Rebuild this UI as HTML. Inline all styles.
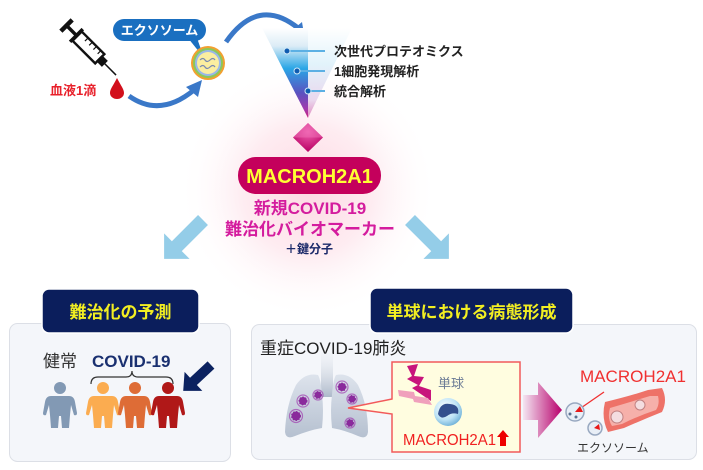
<!DOCTYPE html>
<html><head><meta charset="utf-8"><style>
html,body{margin:0;padding:0;background:#fff;}
svg{display:block;}
text{font-family:"Liberation Sans","Noto Sans CJK JP",sans-serif;}
</style></head><body>
<svg width="703" height="470" viewBox="0 0 703 470" xmlns="http://www.w3.org/2000/svg">
<defs>
<radialGradient id="glow" cx="308" cy="190" r="130" gradientUnits="userSpaceOnUse">
<stop offset="0" stop-color="#fcd9e3"/><stop offset="0.5" stop-color="#feecf1"/><stop offset="1" stop-color="#ffffff" stop-opacity="0"/>
</radialGradient>
<linearGradient id="funL" x1="0" y1="28" x2="0" y2="118" gradientUnits="userSpaceOnUse">
<stop offset="0" stop-color="#ffffff"/><stop offset="0.2" stop-color="#dcecf6"/><stop offset="0.45" stop-color="#2aa6e6"/><stop offset="0.72" stop-color="#5a52c0"/><stop offset="0.9" stop-color="#a23aae"/><stop offset="1" stop-color="#c8207c"/>
</linearGradient>
<linearGradient id="funR" x1="0" y1="28" x2="0" y2="118" gradientUnits="userSpaceOnUse">
<stop offset="0" stop-color="#ffffff"/><stop offset="0.4" stop-color="#e2f3fb"/><stop offset="0.8" stop-color="#ead8ee"/><stop offset="1" stop-color="#e08cc0"/>
</linearGradient>
<linearGradient id="pinkArr" x1="523" y1="0" x2="562" y2="0" gradientUnits="userSpaceOnUse">
<stop offset="0" stop-color="#f4e6f2"/><stop offset="1" stop-color="#b8006c"/>
</linearGradient>
<linearGradient id="lung" x1="0" y1="375" x2="0" y2="440" gradientUnits="userSpaceOnUse">
<stop offset="0" stop-color="#dde3ec"/><stop offset="1" stop-color="#b4bfcf"/>
</linearGradient>
<linearGradient id="trach" x1="0" y1="352" x2="0" y2="398" gradientUnits="userSpaceOnUse">
<stop offset="0" stop-color="#eef1f5" stop-opacity="0.3"/><stop offset="1" stop-color="#aab6c8"/>
</linearGradient>
<radialGradient id="mono" cx="0.4" cy="0.35" r="0.7">
<stop offset="0" stop-color="#ffffff"/><stop offset="0.6" stop-color="#bfe4f6"/><stop offset="1" stop-color="#6aaed6"/>
</radialGradient>
<radialGradient id="diam" cx="0.5" cy="0.3" r="0.7">
<stop offset="0" stop-color="#f060b0"/><stop offset="1" stop-color="#b80062"/>
</radialGradient>
</defs>

<!-- glow -->
<rect x="170" y="55" width="280" height="270" fill="url(#glow)"/>

<!-- syringe -->
<g transform="translate(92,51) rotate(45)" fill="#fff" stroke="#111" stroke-width="2.4">
<line x1="-36" y1="-8" x2="-36" y2="8" stroke-width="4.5"/>
<line x1="-36" y1="0" x2="-22" y2="0" stroke-width="3.5"/>
<line x1="-22" y1="-9" x2="-22" y2="9" stroke-width="3.5"/>
<rect x="-21" y="-6.5" width="32" height="13"/>
<line x1="-12" y1="-6" x2="-12" y2="-2" stroke-width="1.2"/>
<line x1="-6" y1="-6" x2="-6" y2="-2" stroke-width="1.2"/>
<line x1="0" y1="-6" x2="0" y2="-2" stroke-width="1.2"/>
<line x1="6" y1="-6" x2="6" y2="-2" stroke-width="1.2"/>
<rect x="11" y="-3" width="6" height="6" fill="#111"/>
<line x1="17" y1="0" x2="34" y2="0" stroke-width="1.5"/>
</g>
<!-- blood drop -->
<path d="M117,78 C113,86 110,89 110,93 A7,6 0 0 0 124,93 C124,89 121,86 117,78 Z" fill="#d2101c"/>
<text x="50" y="95" font-size="13" font-weight="bold" fill="#e8202a">血液1滴</text>

<!-- arc 1 -->
<path d="M129,96 Q160,118 194,90" fill="none" stroke="#3a78c8" stroke-width="5"/>
<polygon points="202,80 198,97 186,87" fill="#3a78c8"/>
<!-- exosome bubble -->
<path d="M188,38 L204,58 L197,38 Z" fill="#1a6fc0"/>
<rect x="113" y="19" width="93" height="22" rx="11" fill="#1a6fc0"/>
<text x="159.5" y="35" font-size="13" font-weight="bold" fill="#fff" text-anchor="middle">エクソソーム</text>
<!-- exosome circle -->
<circle cx="208" cy="63" r="17" fill="#f2a030"/>
<circle cx="208" cy="63" r="15" fill="#8cc85a"/>
<circle cx="208" cy="63" r="13" fill="#9ab8e8"/>
<circle cx="208" cy="63" r="11" fill="#fbeea0"/>
<path d="M200,60 q3,-3 5,0 t5,0 t5,0 M200,67 q3,-3 5,0 t5,0 t5,0" fill="none" stroke="#7a8ab0" stroke-width="1.2"/>

<!-- arc 2 -->
<path d="M226,42 Q258,-4 298,28" fill="none" stroke="#3a78c8" stroke-width="5"/>
<polygon points="305,40 290,32 302,22" fill="#3a78c8"/>

<!-- funnel -->
<polygon points="262,28 308,28 308,118" fill="url(#funL)"/>
<polygon points="308,28 352,28 308,118" fill="url(#funR)"/>
<g stroke="#5cb0e4" stroke-width="2">
<line x1="287" y1="51" x2="325" y2="51"/>
<line x1="297" y1="71" x2="325" y2="71"/>
<line x1="308" y1="91" x2="325" y2="91"/>
</g>
<g fill="#0f5cb0" stroke="#cfe8f8" stroke-width="1">
<circle cx="287" cy="51" r="3"/><circle cx="297" cy="71" r="3"/><circle cx="308" cy="91" r="3"/>
</g>
<g font-size="13" font-weight="bold" fill="#222">
<text x="334" y="56">次世代プロテオミクス</text>
<text x="334" y="76">1細胞発現解析</text>
<text x="334" y="96">統合解析</text>
</g>

<!-- diamond -->
<polygon points="308,123 323,137.5 308,152 293,137.5" fill="url(#diam)"/>
<polygon points="308,123 323,137.5 308,137.5 293,137.5" fill="#f070b8" opacity="0.5"/>

<!-- pill -->
<rect x="238" y="157" width="143" height="37" rx="18" fill="#c4005c"/>
<text x="309.5" y="183" font-size="20" font-weight="bold" fill="#ffff33" text-anchor="middle">MACROH2A1</text>
<text x="310" y="214" font-size="17" font-weight="bold" fill="#d41c9e" text-anchor="middle">新規COVID-19</text>
<text x="310" y="235" font-size="17" font-weight="bold" fill="#d41c9e" text-anchor="middle">難治化バイオマーカー</text>
<text x="309" y="253" font-size="12" font-weight="bold" fill="#1c2a6a" text-anchor="middle">＋鍵分子</text>

<!-- light blue arrows -->
<g fill="#94cde8">
<polygon transform="translate(203,220) rotate(135)" points="0,-7 37,-7 37,-18 55,0 37,18 37,7 0,7"/>
<polygon transform="translate(410,220) rotate(45)" points="0,-7 37,-7 37,-18 55,0 37,18 37,7 0,7"/>
</g>

<!-- panels -->
<rect x="9.5" y="323.5" width="221" height="138" rx="8" fill="#f4f6fa" stroke="#dcdfe6"/>
<rect x="251.5" y="324.5" width="445" height="135" rx="8" fill="#f4f6fa" stroke="#dcdfe6"/>

<rect x="42" y="289" width="157" height="44" rx="7" fill="#0b1e5c" stroke="#fff" stroke-width="1.5"/>
<text x="120.5" y="318" font-size="17" font-weight="bold" fill="#f2ee22" text-anchor="middle">難治化の予測</text>
<rect x="370" y="288" width="203" height="45" rx="7" fill="#0b1e5c" stroke="#fff" stroke-width="1.5"/>
<text x="471.5" y="318" font-size="17" font-weight="bold" fill="#f2ee22" text-anchor="middle">単球における病態形成</text>

<!-- left panel content -->
<text x="43" y="367" font-size="17" fill="#333">健常</text>
<text x="92" y="367" font-size="17" font-weight="bold" fill="#1a3070">COVID-19</text>
<path d="M91,384 Q91,377 98,377 L126,377 Q132,377 132,371 Q132,377 138,377 L166,377 Q173,377 173,384" fill="none" stroke="#333" stroke-width="1.2"/>

<g fill="#8299b4">
<circle cx="60" cy="388" r="6"/>
<path d="M51,396 Q46,396 45,402 L43,413 Q43,416 46,415 L49,405 L50,415 L51,428 L58,428 L59,416 L61,416 L62,428 L69,428 L70,415 L71,405 L74,415 Q77,416 77,413 L75,402 Q74,396 69,396 Z"/>
</g>
<g fill="#fbac50">
<circle cx="103" cy="388" r="6"/>
<path d="M94,396 Q89,396 88,402 L86,413 Q86,416 89,415 L92,405 L93,415 L94,428 L101,428 L102,416 L104,416 L105,428 L112,428 L113,415 L114,405 L117,415 Q120,416 120,413 L118,402 Q117,396 112,396 Z"/>
</g>
<g fill="#de6c36">
<circle cx="135" cy="388" r="6"/>
<path d="M126,396 Q121,396 120,402 L118,413 Q118,416 121,415 L124,405 L125,415 L126,428 L133,428 L134,416 L136,416 L137,428 L144,428 L145,415 L146,405 L149,415 Q152,416 152,413 L150,402 Q149,396 144,396 Z"/>
</g>
<g fill="#b01818">
<circle cx="168" cy="388" r="6"/>
<path d="M159,396 Q154,396 153,402 L151,413 Q151,416 154,415 L157,405 L158,415 L159,428 L166,428 L167,416 L169,416 L170,428 L177,428 L178,415 L179,405 L182,415 Q185,416 185,413 L183,402 Q182,396 177,396 Z"/>
</g>
<polygon transform="translate(211,365) rotate(137)" points="0,-5 24,-5 24,-13 38,0 24,13 24,5 0,5" fill="#0b2260"/>

<!-- right panel -->
<text x="260" y="354" font-size="17" fill="#222">重症COVID-19肺炎</text>
<!-- lungs -->
<rect x="321" y="353" width="12" height="44" fill="url(#trach)"/>
<path d="M318,375 Q305,372 296,385 Q286,405 285,432 Q286,440 295,436 Q310,430 322,428 Q324,410 322,395 Q321,380 318,375 Z" fill="url(#lung)"/>
<path d="M336,375 Q349,372 358,385 Q368,405 368,432 Q367,440 358,436 Q344,430 332,428 Q330,410 332,395 Q333,380 336,375 Z" fill="url(#lung)"/>
<g fill="#8a2a9c" stroke="#8a2a9c" stroke-width="1" stroke-dasharray="1.5 1.5">
<circle cx="303" cy="401" r="4"/><circle cx="318" cy="395" r="3.5"/><circle cx="342" cy="387" r="4"/>
<circle cx="352" cy="399" r="3.5"/><circle cx="296" cy="416" r="4.5"/><circle cx="350" cy="423" r="3.5"/>
</g>
<g fill="none" stroke="#a040b0" stroke-width="1.2" opacity="0.7">
<circle cx="303" cy="401" r="6"/><circle cx="318" cy="395" r="5"/><circle cx="342" cy="387" r="6"/>
<circle cx="352" cy="399" r="5"/><circle cx="296" cy="416" r="6.5"/><circle cx="350" cy="423" r="5"/>
</g>
<!-- callout -->
<path d="M392,362 L520,362 L520,452 L392,452 L392,414 L348,408 L392,399 Z" fill="#fffde0" stroke="#f25a5a" stroke-width="1.5"/>
<text x="438" y="388" font-size="13" fill="#6a7a95">単球</text>
<polygon points="407,366 418,364 414,376 424,377 419,386 431,390 431,401 412,388 418,385 407,379 412,376" fill="#c8147c"/>
<polygon points="398,390 414,392 415,396 428,398 432,405 414,402 413,399 399,396" fill="#f0a0bc"/>
<circle cx="448" cy="412" r="14" fill="url(#mono)"/>
<path d="M438,414 Q440,402 450,404 Q460,405 458,414 Q452,412 447,416 Q441,420 438,414 Z" fill="#34508e"/>
<text x="403" y="445" font-size="16" fill="#f02020" textLength="93" lengthAdjust="spacingAndGlyphs">MACROH2A1</text>
<polygon points="503,430 509,437 506,437 506,446 500,446 500,437 497,437" fill="#e00"/>

<!-- big pink arrow -->
<polygon points="523,395 538,395 538,382 562,410 538,438 538,420 523,420" fill="url(#pinkArr)"/>
<text x="580" y="382" font-size="17" fill="#f03030" textLength="106" lengthAdjust="spacingAndGlyphs">MACROH2A1</text>
<line x1="604" y1="392" x2="578" y2="410" stroke="#f03030" stroke-width="1.3"/>
<!-- exosomes -->
<circle cx="575" cy="412" r="9" fill="#e8eef6" stroke="#98a8c0" stroke-width="1.5"/>
<path d="M575,412 L580,406 L583,412 Z" fill="#e81818"/>
<circle cx="570" cy="414" r="1.5" fill="#5a7090"/><circle cx="576" cy="417" r="1.5" fill="#5a7090"/>
<circle cx="595" cy="428" r="7" fill="#e8eef6" stroke="#98a8c0" stroke-width="1.5"/>
<path d="M594,428 L599,424 L600,430 Z" fill="#e81818"/>
<!-- vessel -->
<path d="M605,402 Q630,396 648,390 L662,388 Q668,400 662,412 Q642,420 624,428 L608,432 Q601,418 605,402 Z" fill="#ee7268"/>
<path d="M610,408 Q630,402 650,396 L658,396 Q660,404 656,410 Q638,416 622,424 L612,426 Q607,418 610,408 Z" fill="#f6b0aa"/>
<circle cx="617" cy="417" r="6" fill="#f4dde0" stroke="#c08080" stroke-width="1"/>
<circle cx="640" cy="405" r="5" fill="#f4dde0" stroke="#c08080" stroke-width="1"/>
<text x="577" y="452" font-size="12" fill="#333">エクソソーム</text>
</svg>
</body></html>
